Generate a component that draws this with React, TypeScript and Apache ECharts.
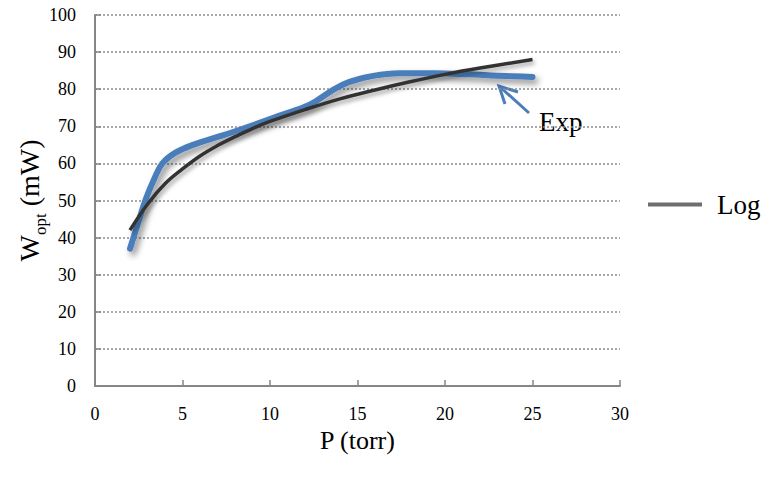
import React, { useEffect, useRef } from "react";
import * as echarts from "echarts";

const xTicks = [0, 5, 10, 15, 20, 25, 30];
const yTicks = [0, 10, 20, 30, 40, 50, 60, 70, 80, 90, 100];

const expP = [2.0, 2.4, 2.9, 3.4, 3.85, 4.6, 5.6, 7.2, 8.6, 10.5, 12.3, 13.5, 14.5, 15.9, 17.4, 19.4, 21.4, 23.0, 25.0];
const expW = [37, 43, 50.3, 56, 60, 62.9, 65, 67.4, 69.6, 72.8, 75.9, 79.5, 81.9, 83.6, 84.3, 84.3, 84.0, 83.6, 83.3];

const logP = [2, 3, 4, 5, 6, 7, 8, 9, 10, 12, 14, 16, 18, 20, 22, 25];
const logW = [42, 49, 54.5, 58.5, 62, 64.8, 67.2, 69.4, 71.3, 74.5, 77.4, 79.8, 82, 84, 85.7, 88];

const FONT = "'Liberation Serif', serif";

export default function App() {
  const ref = useRef<HTMLDivElement>(null);
  useEffect(() => {
    if (!ref.current) return;
    const chart = echarts.init(ref.current, null, { renderer: "svg" });
    const blue = "#4a7ebb";
    chart.setOption({
      animation: false,
      backgroundColor: "#ffffff",
      textStyle: { fontFamily: FONT },
      grid: { left: 95, top: 15, right: 156, bottom: 91, containLabel: false, outerBoundsMode: "none" },
      legend: {
        data: [{ name: "Log", icon: "rect" }],
        left: 643,
        top: 186,
        itemWidth: 54,
        itemHeight: 4,
        itemGap: 10,
        textStyle: { fontFamily: FONT, fontSize: 27, color: "#000", padding: [0, 0, 0, 10] },
      },
      xAxis: {
        type: "value",
        min: 0,
        max: 30,
        interval: 5,
        name: "P (torr)",
        nameLocation: "middle",
        nameGap: 41,
        nameMoveOverlap: false,
        nameTextStyle: { fontFamily: FONT, fontSize: 26, color: "#000", lineHeight: 26 },
        axisLine: { show: true, lineStyle: { color: "#868686", width: 2 } },
        axisTick: { show: true, inside: true, length: 6, lineStyle: { color: "#868686", width: 1.5 } },
        axisLabel: { fontFamily: FONT, fontSize: 18, color: "#000", margin: 19, lineHeight: 18 },
        splitLine: { show: false },
      },
      yAxis: {
        type: "value",
        min: 0,
        max: 100,
        interval: 10,
        name: "{w|W}{s|opt}{w| (mW)}",
        nameLocation: "middle",
        nameGap: 46,
        nameMoveOverlap: false,
        nameTextStyle: {
          fontFamily: FONT,
          color: "#000",
          rich: {
            w: { fontFamily: FONT, fontSize: 28, color: "#000", lineHeight: 40, verticalAlign: "middle" },
            s: { fontFamily: FONT, fontSize: 17, color: "#000", lineHeight: 40, verticalAlign: "bottom" },
          },
        },
        axisLine: { show: true, lineStyle: { color: "#868686", width: 2 } },
        axisTick: { show: true, inside: true, length: 6, lineStyle: { color: "#868686", width: 1.5 } },
        axisLabel: { fontFamily: FONT, fontSize: 18, color: "#000", margin: 19 },
        splitLine: { show: true, lineStyle: { color: "#8c8c8c", width: 1.5, type: [2, 2] } },
      },
      series: [
        {
          name: "Exp",
          type: "line",
          smooth: 0.4,
          showSymbol: false,
          data: expP.map((p, i) => [p, expW[i]]),
          lineStyle: {
            color: blue,
            width: 6,
            cap: "round",
            shadowBlur: 6,
            shadowColor: "rgba(0,0,0,0.45)",
            shadowOffsetX: 3,
            shadowOffsetY: 4,
          },
          itemStyle: { color: blue },
          z: 2,
        },
        {
          name: "Log",
          type: "line",
          smooth: 0.4,
          showSymbol: false,
          data: logP.map((p, i) => [p, logW[i]]),
          lineStyle: {
            color: "#333333",
            width: 3.5,
            shadowBlur: 4,
            shadowColor: "rgba(0,0,0,0.35)",
            shadowOffsetX: 2,
            shadowOffsetY: 3,
          },
          itemStyle: { color: "#6e6e6e" },
          z: 3,
        },
      ],
      graphic: [
        {
          type: "line",
          shape: { x1: 529, y1: 113, x2: 499, y2: 86 },
          style: { stroke: blue, lineWidth: 3 },
        },
        {
          type: "polyline",
          shape: { points: [[518, 92], [499, 86], [505, 104]] },
          style: { stroke: blue, lineWidth: 3, fill: null },
        },
        {
          type: "text",
          left: 539,
          top: 108,
          style: { text: "Exp", fontFamily: FONT, fontSize: 27, fill: "#000" },
        },
      ],
    });
    return () => chart.dispose();
  }, []);
  return <div ref={ref} style={{ position: "fixed", left: 0, top: 0, width: 776, height: 477 }} />;
}
